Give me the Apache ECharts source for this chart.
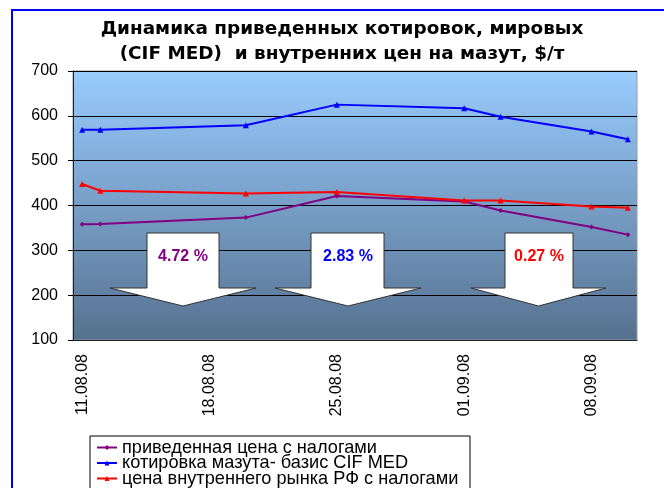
<!DOCTYPE html>
<html>
<head>
<meta charset="utf-8">
<script src="https://cdn.jsdelivr.net/npm/echarts@6/dist/echarts.min.js"></script>
<style>
html,body{margin:0;padding:0;background:#fff;}
#c{width:664px;height:488px;}
</style>
</head>
<body>
<div id="c"></div>
<script>
var dates = ['11.08.08','12.08.08','13.08.08','14.08.08','15.08.08','16.08.08','17.08.08',
  '18.08.08','19.08.08','20.08.08','21.08.08','22.08.08','23.08.08','24.08.08',
  '25.08.08','26.08.08','27.08.08','28.08.08','29.08.08','30.08.08','31.08.08',
  '01.09.08','02.09.08','03.09.08','04.09.08','05.09.08','06.09.08','07.09.08',
  '08.09.08','09.09.08','10.09.08'];
var obsDates = ['11.08.08','12.08.08','20.08.08','25.08.08','01.09.08','03.09.08','08.09.08','10.09.08'];
var reduced = [358, 359, 373, 421, 409, 389, 352, 335];
var cifMed = [569, 569, 579, 625, 617, 598, 565, 548];
var domestic = [448, 433, 427, 430, 411, 411, 398, 395];
var seriesNames = ['приведенная цена с налогами','котировка мазута- базис CIF MED','цена внутреннего рынка РФ с налогами'];
var arrowLabels = ['4.72 %','2.83 %','0.27 %'];
var yTicks = [100, 700, 100];

function pairs(vals){ return obsDates.map(function(d,i){ return [d, vals[i]]; }); }

var FONT = 'Liberation Sans';
var chart = echarts.init(document.getElementById('c'));

function arrow(sl, sr, hl, hr, top, base, tip){
  var cx = (hl + hr) / 2;
  return {
    type: 'polygon', z: 100,
    shape: { points: [[sl, top], [sr, top], [sr, base], [hr, base], [cx, tip], [hl, base], [sl, base]] },
    style: { fill: '#fff', stroke: '#333', lineWidth: 1 }
  };
}
function label(x, y, t, col){
  return { type: 'text', z: 101, x: x, y: y,
    style: { text: t, fill: col, font: 'bold 16px "' + FONT + '"', textAlign: 'center', textVerticalAlign: 'middle' } };
}
function legendRow(i, top){
  return {
    orient: 'horizontal', left: 96, top: top,
    data: [seriesNames[i]],
    padding: 0, itemGap: 0, itemWidth: 20, itemHeight: 6,
    textStyle: { fontFamily: FONT, fontSize: 18.2, color: '#000', lineHeight: 15.5 }
  };
}

var option = {
  animation: false,
  backgroundColor: '#fff',
  title: {
    text: 'Динамика приведенных котировок, мировых\n(CIF MED)  и внутренних цен на мазут, $/т',
    left: 337, top: 12, textAlign: 'center',
    textStyle: { fontFamily: 'DejaVu Sans', fontSize: 18.4, fontWeight: 'bold', color: '#000', lineHeight: 25 }
  },
  legend: [legendRow(0, 438.5), legendRow(1, 454), legendRow(2, 469.5)],
  grid: {
    left: 73, right: 27, top: 71, bottom: 148, show: true,
    borderColor: '#999', borderWidth: 1,
    backgroundColor: new echarts.graphic.LinearGradient(0, 0, 0, 1, [
      { offset: 0, color: '#99CCFF' }, { offset: 1, color: '#56718F' }])
  },
  xAxis: {
    type: 'category', data: dates, boundaryGap: true,
    axisLine: { lineStyle: { color: '#222', width: 1 } },
    axisTick: { interval: 6, length: 5, lineStyle: { color: '#000' } },
    axisLabel: { interval: 6, rotate: 90, margin: 14, fontFamily: FONT, fontSize: 16, color: '#000' },
    splitLine: { show: false }
  },
  yAxis: {
    type: 'value', min: yTicks[0], max: yTicks[1], interval: yTicks[2],
    axisLine: { show: true, lineStyle: { color: '#222', width: 1 } },
    axisTick: { show: true, length: 5, lineStyle: { color: '#000' } },
    axisLabel: { margin: 15, fontFamily: FONT, fontSize: 16, color: '#000' },
    splitLine: { show: true, lineStyle: { color: '#000', width: 1 } }
  },
  series: [
    { name: seriesNames[0], type: 'line', data: pairs(reduced), color: '#800080',
      symbol: 'diamond', symbolSize: 5, lineStyle: { width: 2 } },
    { name: seriesNames[1], type: 'line', data: pairs(cifMed), color: '#0000FF',
      symbol: 'triangle', symbolSize: 6, lineStyle: { width: 2 } },
    { name: seriesNames[2], type: 'line', data: pairs(domestic), color: '#FF0000',
      symbol: 'triangle', symbolSize: 6, lineStyle: { width: 2 } }
  ],
  graphic: [
    { type: 'rect', z: 0, shape: { x: 12, y: 10, width: 800, height: 800 },
      style: { fill: 'none', stroke: '#0000EE', lineWidth: 2 } },
    { type: 'rect', z: 0, shape: { x: 90, y: 436, width: 380, height: 100 },
      style: { fill: '#fff', stroke: '#000', lineWidth: 1 } },
    arrow(147, 219, 110, 256, 233, 288, 306),
    arrow(311, 384, 275, 421, 233, 288, 306),
    arrow(505, 573, 471, 606, 233, 288, 306),
    label(183, 257, arrowLabels[0], '#800080'),
    label(348, 257, arrowLabels[1], '#0000FF'),
    label(539, 257, arrowLabels[2], '#FF0000')
  ]
};
chart.setOption(option);
</script>
</body>
</html>
